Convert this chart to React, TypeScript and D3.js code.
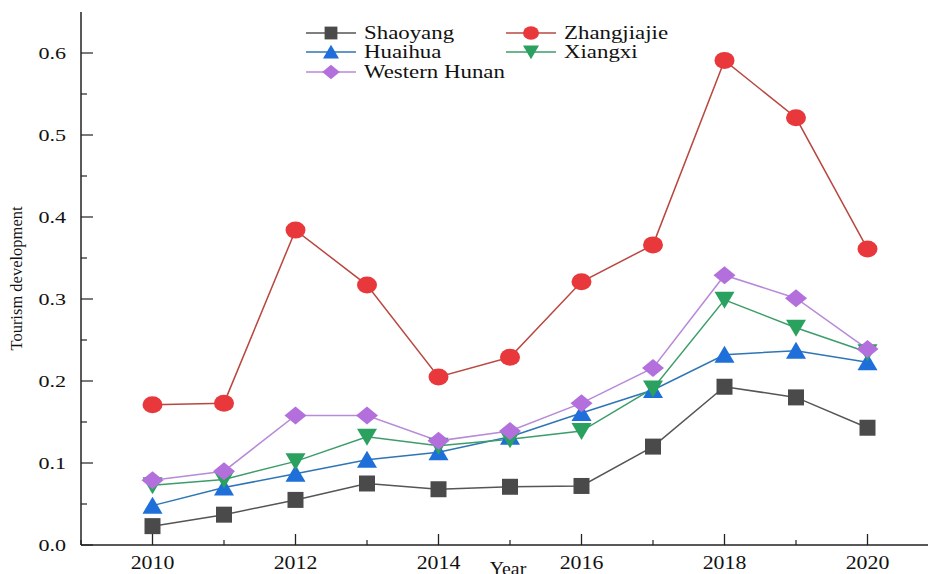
import React, { useRef, useEffect } from 'react';
import * as d3 from 'd3';

const years = [2010, 2011, 2012, 2013, 2014, 2015, 2016, 2017, 2018, 2019, 2020];
const shaoyang = [0.023, 0.037, 0.055, 0.075, 0.068, 0.071, 0.072, 0.12, 0.193, 0.18, 0.143];
const zhangjiajie = [0.171, 0.173, 0.384, 0.317, 0.205, 0.229, 0.321, 0.366, 0.591, 0.521, 0.361];
const huaihua = [0.048, 0.07, 0.087, 0.104, 0.113, 0.132, 0.161, 0.189, 0.232, 0.237, 0.223];
const xiangxi = [0.073, 0.08, 0.102, 0.132, 0.121, 0.129, 0.139, 0.191, 0.299, 0.265, 0.235];
const westernHunan = [0.079, 0.09, 0.158, 0.158, 0.127, 0.139, 0.173, 0.216, 0.329, 0.301, 0.239];
const yTicks = [0, 0.1, 0.2, 0.3, 0.4, 0.5, 0.6];
const xTicks = [2010, 2012, 2014, 2016, 2018, 2020];

type Shape = 'square' | 'circle' | 'up' | 'down' | 'diamond';
const series: { name: string; values: number[]; line: string; fill: string; shape: Shape }[] = [
  { name: 'Shaoyang', values: shaoyang, line: '#555555', fill: '#4a4a4a', shape: 'square' },
  { name: 'Zhangjiajie', values: zhangjiajie, line: '#b9473f', fill: '#e8383b', shape: 'circle' },
  { name: 'Huaihua', values: huaihua, line: '#2e75b6', fill: '#1e6fd9', shape: 'up' },
  { name: 'Xiangxi', values: xiangxi, line: '#3c9d6a', fill: '#2aa15e', shape: 'down' },
  { name: 'Western Hunan', values: westernHunan, line: '#b88ad8', fill: '#b370dd', shape: 'diamond' },
];

function markerPath(shape: Shape): string {
  switch (shape) {
    case 'square': return 'M-8,-8H8V8H-8Z';
    case 'circle': return 'M-10,0A10,8.5 0 1,0 10,0A10,8.5 0 1,0 -10,0Z';
    case 'up': return 'M0,-9L10,8H-10Z';
    case 'down': return 'M0,9L10,-8H-10Z';
    case 'diamond': return 'M0,-9L11,0L0,9L-11,0Z';
  }
}

const FONT = "'Liberation Serif', 'DejaVu Serif', 'Times New Roman', serif";

export default function App() {
  const svgRef = useRef<SVGSVGElement>(null);

  useEffect(() => {
    if (!svgRef.current) return;
    const svg = d3.select(svgRef.current);
    svg.selectAll('*').remove();

    // text in the reference is stretched horizontally
    const label = (
      g: d3.Selection<any, any, any, any>, tx: number, ty: number, str: string,
      size: number, anchor: string, sx = 1.25, rotate = 0,
    ) => {
      g.append('text')
        .attr('transform', `translate(${tx},${ty}) rotate(${rotate}) scale(${sx},1)`)
        .attr('text-anchor', anchor)
        .attr('font-family', FONT)
        .attr('font-size', size)
        .attr('fill', '#111')
        .text(str);
    };

    const x = d3.scaleLinear().domain([2009, 2021]).range([81, 939]);
    const y = d3.scaleLinear().domain([0, 0.65]).range([545, 12]);

    // axes lines
    svg.append('line').attr('x1', 81).attr('x2', 81).attr('y1', y(0.65)).attr('y2', y(0))
      .attr('stroke', '#222').attr('stroke-width', 1.5);
    svg.append('line').attr('x1', 81).attr('x2', 939).attr('y1', y(0)).attr('y2', y(0))
      .attr('stroke', '#222').attr('stroke-width', 1.5);

    // y ticks (inward)
    const yMinor = d3.range(0.05, 0.65, 0.1);
    svg.append('g').selectAll('line').data(yTicks).enter().append('line')
      .attr('x1', 81).attr('x2', 93).attr('y1', d => y(d)).attr('y2', d => y(d))
      .attr('stroke', '#222').attr('stroke-width', 1.2);
    svg.append('g').selectAll('line').data(yMinor).enter().append('line')
      .attr('x1', 81).attr('x2', 87).attr('y1', d => y(d)).attr('y2', d => y(d))
      .attr('stroke', '#222').attr('stroke-width', 1.2);
    yTicks.forEach(d => label(svg, 66, y(d) + 6, d3.format('.1f')(d), 17, 'end', 1.3));

    // x ticks (inward)
    const xMinor = [2009, 2011, 2013, 2015, 2017, 2019, 2021];
    svg.append('g').selectAll('line').data(xTicks).enter().append('line')
      .attr('x1', d => x(d)).attr('x2', d => x(d)).attr('y1', y(0)).attr('y2', y(0) - 11)
      .attr('stroke', '#222').attr('stroke-width', 1.3);
    svg.append('g').selectAll('line').data(xMinor).enter().append('line')
      .attr('x1', d => x(d)).attr('x2', d => x(d)).attr('y1', y(0)).attr('y2', y(0) - 5)
      .attr('stroke', '#222').attr('stroke-width', 1.2);
    xTicks.forEach(d => label(svg, x(d), 569, String(d), 19, 'middle', 1.15));

    // axis titles (the reference crops "Year" at the bottom edge)
    label(svg, 508, 575, 'Year', 18, 'middle', 1.1);
    label(svg, 22, y(0.325), 'Tourism development', 16.5, 'middle', 1, -90);

    // lines and markers
    const line = d3.line<number>().x((_, i) => x(years[i])).y(d => y(d));
    series.forEach(s => {
      svg.append('path').attr('d', line(s.values)).attr('fill', 'none')
        .attr('stroke', s.line).attr('stroke-width', 1.5);
    });
    series.forEach(s => {
      svg.append('g').selectAll('path').data(s.values).enter().append('path')
        .attr('d', markerPath(s.shape))
        .attr('transform', (d, i) => `translate(${x(years[i])},${y(d)})`)
        .attr('fill', s.fill);
    });

    // legend
    const legendPos = [
      { lx: 306, ly: 33 }, { lx: 506, ly: 33 },
      { lx: 306, ly: 52 }, { lx: 506, ly: 52 },
      { lx: 306, ly: 72 },
    ];
    series.forEach((s, i) => {
      const { lx, ly } = legendPos[i];
      const g = svg.append('g');
      g.append('line').attr('x1', lx).attr('x2', lx + 50).attr('y1', ly).attr('y2', ly)
        .attr('stroke', s.line).attr('stroke-width', 1.5);
      g.append('path').attr('d', markerPath(s.shape))
        .attr('transform', `translate(${lx + 25},${ly}) scale(0.8)`).attr('fill', s.fill);
      label(g, lx + 58, ly + 6, s.name, 18, 'start', 1.27);
    });
  }, []);

  return (
    <svg ref={svgRef} width={928} height={574}
      style={{ position: 'absolute', left: 0, top: 0, background: '#fff' }} />
  );
}
